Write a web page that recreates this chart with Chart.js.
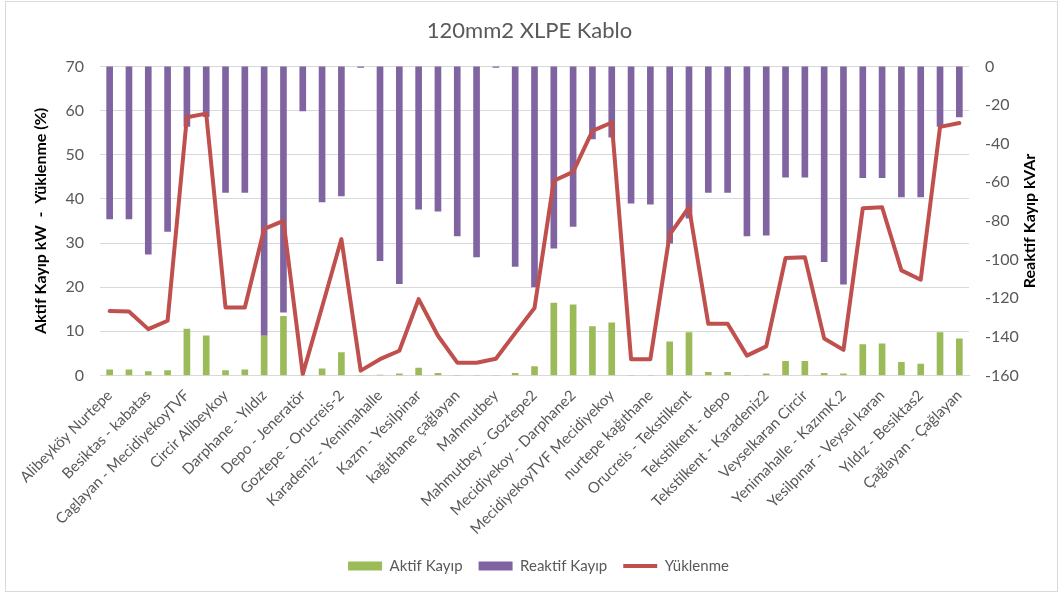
<!DOCTYPE html>
<html>
<head>
<meta charset="utf-8">
<script src="https://cdn.jsdelivr.net/npm/chart.js@4.4.1/dist/chart.umd.min.js"></script>
<style>
html,body{margin:0;padding:0;background:#fff;}
#wrap{width:1059px;height:594px;position:relative;}
</style>
</head>
<body>
<div id="wrap"><canvas id="c" width="1059" height="594"></canvas></div>
<script>
const chartTitle = '120mm2 XLPE Kablo';
const leftAxisTitle = 'Aktif Kayıp kW  -  Yüklenme (%)';
const rightAxisTitle = 'Reaktif Kayıp kVAr';

const categories = [
  'Alibeyköy Nurtepe', 'Alibeyköy Nurtepe2',
  'Besiktas - kabatas', 'Besiktas - kabatas2',
  'Caglayan - MecidiyekoyTVF', 'Caglayan - MecidiyekoyTVF2',
  'Circir Alibeykoy', 'Circir Alibeykoy2',
  'Darphane - Yıldız', 'Darphane - Yıldız2',
  'Depo - Jeneratör', 'Goztepe - Orucreis',
  'Goztepe - Orucreis-2', 'Jeneratör - Mahmutbey',
  'Karadeniz - Yenimahalle', 'Karadeniz - Yenimahalle2',
  'Kazm - Yesilpinar', 'Kazm - Yesilpinar2',
  'kağıthane çağlayan', 'kağıthane çağlayan2',
  'Mahmutbey', 'Mahmutbey - Goztepe',
  'Mahmutbey - Goztepe2', 'Mecidiyekoy - Darphane',
  'Mecidiyekoy - Darphane2', 'Mecidiyekoy - MecidiyekoyTVF',
  'MecidiyekoyTVF Mecidiyekoy', 'Nurtepe - Alibeyköy',
  'nurtepe kağıthane', 'Orucreis - Goztepe',
  'Orucreis - Tekstilkent', 'Tekstilkent - Orucreis',
  'Tekstilkent - depo', 'Tekstilkent - Karadeniz',
  'Tekstilkent - Karadeniz2', 'Veyselkaran - Yesilpınar',
  'Veyselkaran Circir', 'Yenimahalle - KazımK.',
  'Yenimahalle - KazımK.2', 'Yesilpınar - Kazım',
  'Yesilpınar - Veysel karan', 'Yıldız - Besiktas',
  'Yıldız - Besiktas2', 'Çağlayan - Caglayan',
  'Çağlayan - Çağlayan'
];

const aktifKayip = [
  1.3, 1.3, 0.9, 1.1, 10.5, 9.0, 1.1, 1.3, 9.0, 13.4,
  0, 1.5, 5.2, 0, 0.1, 0.4, 1.7, 0.5, 0, 0,
  0, 0.5, 2.0, 16.4, 16.0, 11.1, 11.9, 0, 0, 7.6,
  9.7, 0.7, 0.7, 0, 0.4, 3.2, 3.2, 0.5, 0.4, 7.0,
  7.2, 3.0, 2.6, 9.7, 8.3
];

const reaktifKayip = [
  -78.9, -78.9, -97.2, -85.4, -31.1, -26.0, -65.2, -65.2, -139.3, -127.2,
  -23.0, -70.2, -67.0, -0.5, -100.6, -112.5, -73.9, -74.9, -87.7, -98.6,
  -0.5, -103.6, -114.1, -94.1, -82.8, -37.5, -36.6, -70.8, -71.3, -91.5,
  -78.5, -65.2, -65.2, -87.7, -87.3, -57.3, -57.3, -101.1, -112.7, -57.6,
  -57.6, -67.5, -67.5, -31.1, -26.2
];

const yuklenme = [
  14.6, 14.5, 10.5, 12.4, 58.5, 59.3, 15.4, 15.4, 33.2, 35.0,
  0.3, 15.5, 30.9, 1.1, 3.7, 5.6, 17.3, 9.0, 2.9, 2.9,
  3.8, 9.6, 15.3, 44.1, 46.1, 55.4, 57.3, 3.7, 3.7, 31.9,
  38.1, 11.7, 11.7, 4.5, 6.6, 26.6, 26.8, 8.4, 5.8, 37.9,
  38.1, 23.8, 21.7, 56.3, 57.2
];

const leftTicks = [0, 10, 20, 30, 40, 50, 60, 70];
const rightTicks = [-160, -140, -120, -100, -80, -60, -40, -20, 0];

const FONT = 'Lato';
const TEXT_GRAY = '#595959';
const GRID = '#d9d9d9';

const chartBorder = {
  id: 'chartBorder',
  beforeDraw(chart) {
    const ctx = chart.ctx;
    ctx.save();
    ctx.fillStyle = '#ffffff';
    ctx.fillRect(0, 0, chart.width, chart.height);
    ctx.strokeStyle = '#d9d9d9';
    ctx.lineWidth = 1;
    ctx.strokeRect(5.5, 1.5, chart.width - 7, chart.height - 4);
    ctx.restore();
  }
};

const legendShift = {
  id: 'legendShift',
  afterLayout(chart) {
    if (chart.legend) {
      chart.legend.left += 9;
      chart.legend.right += 9;
    }
  }
};

const rightTitle = {
  id: 'rightTitle',
  afterDraw(chart) {
    const ctx = chart.ctx;
    const a = chart.chartArea;
    ctx.save();
    ctx.translate(1030, (a.top + a.bottom) / 2);
    ctx.rotate(-Math.PI / 2);
    ctx.font = 'bold 16px ' + FONT;
    ctx.fillStyle = '#000000';
    ctx.textAlign = 'center';
    ctx.textBaseline = 'middle';
    ctx.fillText(rightAxisTitle, 0, 0);
    ctx.restore();
  }
};

new Chart(document.getElementById('c'), {
  type: 'bar',
  data: {
    labels: categories,
    datasets: [
      {
        type: 'bar', label: 'Aktif Kayıp', data: aktifKayip, yAxisID: 'y',
        backgroundColor: '#9BBB59', barThickness: 6, grouped: false, order: 2,
        pointStyle: 'rect'
      },
      {
        type: 'bar', label: 'Reaktif Kayıp', data: reaktifKayip, yAxisID: 'y1',
        backgroundColor: '#8064A2', barThickness: 6, grouped: false, order: 3,
        pointStyle: 'rect'
      },
      {
        type: 'line', label: 'Yüklenme', data: yuklenme, yAxisID: 'y',
        borderColor: '#C0504D', backgroundColor: '#C0504D', borderWidth: 4,
        pointRadius: 0, tension: 0, order: 1, pointStyle: 'line',
        borderJoinStyle: 'round', borderCapStyle: 'round'
      }
    ]
  },
  options: {
    responsive: false,
    animation: false,
    devicePixelRatio: 1,
    layout: { padding: { top: 0, left: 0, right: 0, bottom: 10.5 } },
    plugins: {
      tooltip: { enabled: false },
      title: {
        display: true, text: chartTitle, color: TEXT_GRAY,
        font: { family: FONT, size: 22, weight: 'normal' },
        padding: { top: 18, bottom: 22 }
      },
      legend: {
        position: 'bottom',
        labels: {
          usePointStyle: true, pointStyleWidth: 34, boxHeight: 9,
          padding: 16, color: TEXT_GRAY,
          font: { family: FONT, size: 15 },
          sort: (a, b) => a.datasetIndex - b.datasetIndex
        }
      }
    },
    scales: {
      x: {
        offset: true,
        grid: { display: false, drawTicks: false },
        border: { display: true, color: GRID },
        ticks: {
          autoSkip: false, maxRotation: 45, minRotation: 45, padding: 11,
          color: TEXT_GRAY, font: { family: FONT, size: 15 },
          callback(v, i) { return i % 2 === 0 ? categories[i] : ''; }
        },
        afterFit(s) { s.height = 167; }
      },
      y: {
        position: 'left', min: 0, max: 70,
        afterBuildTicks(s) { s.ticks = leftTicks.map(v => ({ value: v })); },
        grid: { color: GRID, drawTicks: false },
        border: { display: false },
        ticks: { padding: 16, color: TEXT_GRAY, font: { family: FONT, size: 16 } },
        title: {
          display: true, text: leftAxisTitle, color: '#000000',
          font: { family: FONT, size: 16, weight: 'bold' },
          padding: { top: 31, bottom: 0 }
        },
        afterFit(s) { s.width = 100; }
      },
      y1: {
        position: 'right', min: -160, max: 0,
        afterBuildTicks(s) { s.ticks = rightTicks.map(v => ({ value: v })); },
        grid: { display: false, drawTicks: false },
        border: { display: false },
        ticks: { padding: 16, color: TEXT_GRAY, font: { family: FONT, size: 16 } },
        afterFit(s) { s.width = 90; }
      }
    }
  },
  plugins: [chartBorder, legendShift, rightTitle]
});
</script>
</body>
</html>
